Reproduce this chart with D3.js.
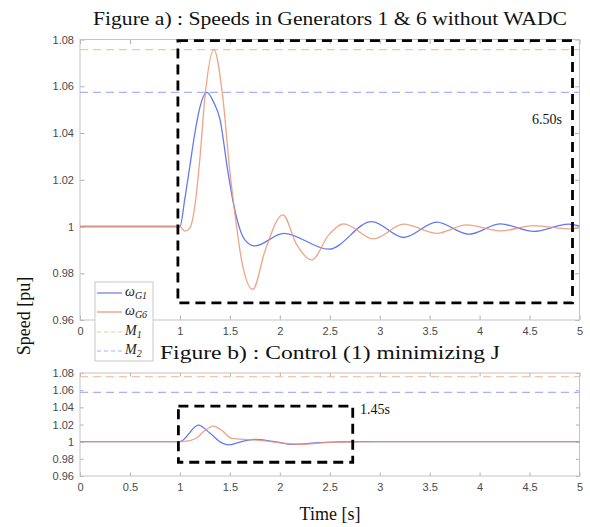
<!DOCTYPE html>
<html><head><meta charset="utf-8">
<script src="https://cdn.jsdelivr.net/npm/d3@7"></script>
<style>body{margin:0;background:#fff}svg{display:block}</style>
</head><body>
<svg id="c" width="590" height="527"></svg>
<script>
// ---- data ----
const xTicks = [0,0.5,1,1.5,2,2.5,3,3.5,4,4.5,5];
const xTickLabels = ["0","0.5","1","1.5","2","2.5","3","3.5","4","4.5","5"];
const xTickLabelsTop = ["0","","1","1.5","2","2.5","3","3.5","4","4.5","5"]; // "0.5" hidden by legend
const yTicks = [0.96,0.98,1,1.02,1.04,1.06,1.08];
const yTickLabels = ["0.96","0.98","1","1.02","1.04","1.06","1.08"];
const M1 = 1.0757;
const M2 = 1.0574;
// Figure a) without WADC
const topG1 = [[0,1],[1,1],[1.05,1.012],[1.1,1.026],[1.15,1.040],[1.2,1.051],[1.27,1.0574],[1.34,1.053],[1.4,1.046],[1.48,1.0236],[1.55,1.007],[1.65,0.9943],[1.75,0.9917],[2.04,0.9971],[2.49,0.9903],[2.92,1.0021],[3.24,0.9953],[3.57,1.0019],[3.89,0.9967],[4.21,1.0011],[4.54,0.9979],[4.89,1.001],[5,1.0002]];
const topG6 = [[0,1],[1,1],[1.05,0.998],[1.1,0.9993],[1.15,1.009],[1.2,1.029],[1.25,1.055],[1.34,1.0757],[1.43,1.055],[1.5,1.0236],[1.55,1.0057],[1.62,0.985],[1.73,0.9731],[1.85,0.9893],[2.03,1.005],[2.17,0.9921],[2.32,0.9857],[2.49,0.9964],[2.64,1.0011],[2.94,0.9947],[3.24,1.001],[3.57,0.9971],[3.87,1.0007],[4.21,0.9981],[4.54,1.0004],[4.89,0.999],[5,0.9993]];
// Figure b) control (1) minimizing J
const botG1 = [[0,1],[1,1],[1.185,1.0192],[1.3,1.010],[1.42,0.9985],[1.486,0.9962],[1.6,0.9995],[1.75,1.0027],[1.95,1.0],[2.14,0.9969],[2.4,0.9988],[2.8,1.0],[5,1.0]];
const botG6 = [[0,1],[1,1],[1.1,1.0012],[1.17,1.0046],[1.25,1.013],[1.336,1.018],[1.42,1.013],[1.52,1.0038],[1.8,1.0015],[2.1,0.9975],[2.2,0.997],[2.5,0.9992],[3,1],[5,1]];
const topBox = [0.98, 4.93, 0.9673, 1.0795];
const botBox = [0.985, 2.73, 0.976, 1.0415];
const topBoxLabel = "6.50s";
const botBoxLabel = "1.45s";
const titleA = "Figure a) : Speeds in Generators 1 & 6 without WADC";
const titleB = "Figure b) : Control (1) minimizing J";

// ---- style ----
const cBlue = "#6479f2", cOrange = "#ec9473";
const cM1 = "#f5c2ab", cM2 = "#a8b2fa";
const frameC = "#c4c4c4", tickTxt = "#4a4a4a";
const serif = "'Liberation Serif', 'DejaVu Serif', serif";
const sans = "'Liberation Sans', Arial, sans-serif";

const svg = d3.select("#c");
const x = d3.scaleLinear().domain([0,5]).range([80,579.5]);

function panel(id, yRange, g1, g6, box, boxLabel, labelPos, tickLen, xLabels) {
  const y = d3.scaleLinear().domain([0.96,1.08]).range(yRange);
  const g = svg.append("g");
  const [x0,x1] = x.range(), [yb,yt] = yRange;
  g.append("clipPath").attr("id", id).append("rect")
    .attr("x", x0).attr("y", yt).attr("width", x1-x0).attr("height", yb-yt);
  const ax = g.append("g").attr("transform", `translate(0,${yb})`)
    .call(d3.axisBottom(x).tickValues(xTicks).tickFormat((d,i)=>xLabels[i]).tickSize(-tickLen).tickPadding(7));
  const ay = g.append("g").attr("transform", `translate(${x0},0)`)
    .call(d3.axisLeft(y).tickValues(yTicks).tickFormat((d,i)=>yTickLabels[i]).tickSize(-tickLen).tickPadding(6));
  const axt = g.append("g").attr("transform", `translate(0,${yt})`)
    .call(d3.axisTop(x).tickValues(xTicks).tickFormat("").tickSize(-tickLen));
  const ayr = g.append("g").attr("transform", `translate(${x1},0)`)
    .call(d3.axisRight(y).tickValues(yTicks).tickFormat("").tickSize(-tickLen));
  [ax,ay,axt,ayr].forEach(a=>{
    a.select(".domain").remove();
    a.selectAll(".tick line").attr("stroke", "#b0b0b0");
    a.selectAll(".tick text").attr("fill", tickTxt).style("font-family", sans).style("font-size","11px");
  });
  ax.selectAll(".tick text").filter(function(){return this.textContent==="";}).remove();
  g.append("rect").attr("x", x0).attr("y", yt).attr("width", x1-x0).attr("height", yb-yt)
    .attr("fill","none").attr("stroke", frameC).attr("stroke-width",1);
  const inner = g.append("g").attr("clip-path", `url(#${id})`);
  inner.append("line").attr("x1",x0).attr("x2",x1).attr("y1",y(M1)).attr("y2",y(M1))
    .attr("stroke",cM1).attr("stroke-width",1.2).attr("stroke-dasharray","8,5");
  inner.append("line").attr("x1",x0).attr("x2",x1).attr("y1",y(M2)).attr("y2",y(M2))
    .attr("stroke",cM2).attr("stroke-width",1.2).attr("stroke-dasharray","8,5");
  const line = d3.line().x(d=>x(d[0])).y(d=>y(d[1])).curve(d3.curveMonotoneX);
  inner.append("path").datum(g1).attr("d", line).attr("fill","none").attr("stroke",cBlue).attr("stroke-width",1.3);
  inner.append("path").datum(g6).attr("d", line).attr("fill","none").attr("stroke",cOrange).attr("stroke-width",1.3).attr("stroke-opacity",0.85);
  g.append("rect").attr("x", x(box[0])).attr("y", y(box[3]))
    .attr("width", x(box[1])-x(box[0])).attr("height", y(box[2])-y(box[3]))
    .attr("fill","none").attr("stroke","#000").attr("stroke-width",2.8).attr("stroke-dasharray","10,6");
  g.append("text").attr("x", labelPos[0]).attr("y", labelPos[1]).attr("text-anchor", labelPos[2])
    .style("font-family", serif).style("font-size","14px").attr("fill","#111").text(boxLabel);
  return y;
}

panel("clipA", [320, 39.5], topG1, topG6, topBox, topBoxLabel, [562,124,"end"], 4.5, xTickLabelsTop);
panel("clipB", [476, 373], botG1, botG6, botBox, botBoxLabel, [360,414,"start"], 3.5, xTickLabels);

// titles
svg.append("text").attr("x",330).attr("y",25).attr("text-anchor","middle")
  .attr("textLength",474).attr("lengthAdjust","spacingAndGlyphs")
  .style("font-family",serif).style("font-size","19px").attr("fill","#111").text(titleA);
svg.append("text").attr("x",330).attr("y",359).attr("text-anchor","middle")
  .attr("textLength",340).attr("lengthAdjust","spacingAndGlyphs")
  .style("font-family",serif).style("font-size","19px").attr("fill","#111").text(titleB);
svg.append("text").attr("x",330).attr("y",520).attr("text-anchor","middle")
  .style("font-family",serif).style("font-size","18px").attr("fill","#111").text("Time [s]");
svg.append("text").attr("transform","translate(30,316) rotate(-90)").attr("text-anchor","middle")
  .style("font-family",serif).style("font-size","18px").attr("fill","#111").text("Speed [pu]");

// legend
const leg = svg.append("g");
leg.append("rect").attr("x",95).attr("y",282).attr("width",58).attr("height",79)
  .attr("fill","#fff").attr("stroke","#c8c8c8").attr("stroke-width",1);
const legItems = [
  {base:"ω", sub:"G1", c:cBlue, dash:null, y:293},
  {base:"ω", sub:"G6", c:cOrange, dash:null, y:312},
  {base:"M", sub:"1", c:cM1, dash:"4,3", y:332},
  {base:"M", sub:"2", c:cM2, dash:"4,3", y:351}
];
legItems.forEach(it=>{
  leg.append("line").attr("x1",97).attr("x2",122).attr("y1",it.y).attr("y2",it.y)
    .attr("stroke",it.c).attr("stroke-width",1.2).attr("stroke-dasharray",it.dash);
  const t = leg.append("text").attr("x",125).attr("y",it.y+3)
    .style("font-family",serif).style("font-style","italic").style("font-size","14px").attr("fill","#222");
  t.append("tspan").text(it.base);
  t.append("tspan").attr("dy",3).style("font-size","10px").text(it.sub);
});
</script>
</body></html>
